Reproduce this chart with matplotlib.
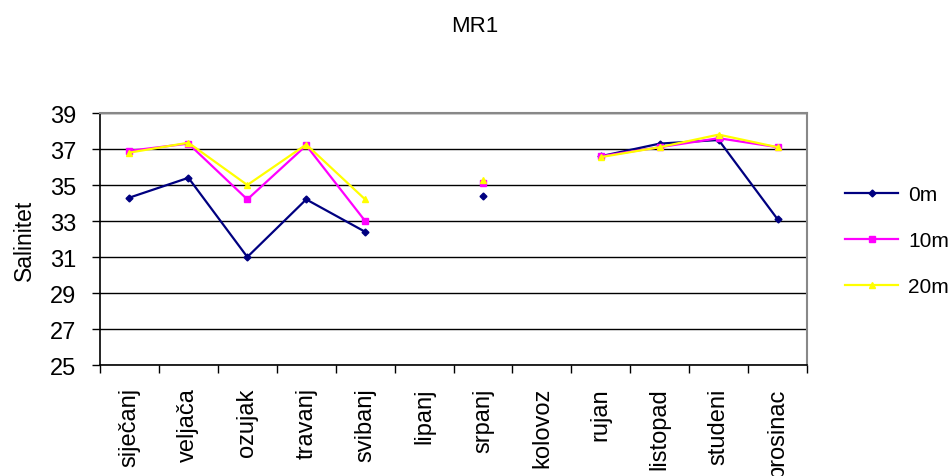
import numpy as np
import matplotlib.pyplot as plt
from matplotlib.ticker import FixedLocator

plt.rcParams['font.family'] = ['Liberation Sans', 'DejaVu Sans']

# mjesečne vrijednosti saliniteta po dubinama (NaN = nema mjerenja)
mjeseci = ["siječanj", "veljača", "ozujak", "travanj", "svibanj", "lipanj",
           "srpanj", "kolovoz", "rujan", "listopad", "studeni", "prosinac"]
sal_0m = [34.3, 35.4, 31.0, 34.2, 32.4, np.nan, 34.4, np.nan, 36.6, 37.3, 37.5, 33.1]
sal_10m = [36.9, 37.3, 34.2, 37.2, 33.0, np.nan, 35.1, np.nan, 36.6, 37.1, 37.6, 37.1]
sal_20m = [36.8, 37.35, 35.0, 37.25, 34.2, np.nan, 35.3, np.nan, 36.55, 37.1, 37.8, 37.1]

fig = plt.figure(figsize=(9.5, 4.77), dpi=100)
ax = fig.add_axes([0.1053, 0.2327, 0.7442, 0.5283])

x = np.arange(len(mjeseci))
l0, = ax.plot(x, sal_0m, color="#000080", lw=1.6, marker="D", ms=3.5, label="0m")
l1, = ax.plot(x, sal_10m, color="#FF00FF", lw=1.6, marker="s", ms=5, label="10m")
l2, = ax.plot(x, sal_20m, color="#FFFF00", lw=1.6, marker="^", ms=5, label="20m")

ax.set_xlim(-0.5, len(mjeseci) - 0.5)
ax.set_ylim(25, 39)
ax.set_yticks(range(25, 40, 2))
ax.tick_params(axis="y", labelsize=17, length=6, direction="out", width=1, pad=11)

# oznake mjeseci u sredini, crtice na granicama
ax.set_xticks(x)
ax.set_xticklabels(mjeseci, rotation=90, fontsize=17)
ax.tick_params(axis="x", which="major", length=0, pad=16)
ax.xaxis.set_minor_locator(FixedLocator(np.arange(-0.5, len(mjeseci), 1)))
ax.tick_params(axis="x", which="minor", length=6, direction="out", width=1)

ax.grid(axis="y", color="black", lw=1)
ax.set_axisbelow(True)
for s in ("top", "right"):
    ax.spines[s].set_color("#888888")
    ax.spines[s].set_linewidth(1.5)
for s in ("left", "bottom"):
    ax.spines[s].set_color("black")
    ax.spines[s].set_linewidth(1.2)

ax.set_ylabel("Salinitet", fontsize=16.5, labelpad=10)
fig.text(0.5, 0.945, "MR1", ha="center", va="center", fontsize=16)

fig.legend(handles=[l0, l1, l2], loc="center left", bbox_to_anchor=(0.881, 0.493),
           frameon=False, fontsize=15, handlelength=2.55, labelspacing=1.3,
           handletextpad=0.48, borderaxespad=0)

fig.savefig("out.png", dpi=100)
